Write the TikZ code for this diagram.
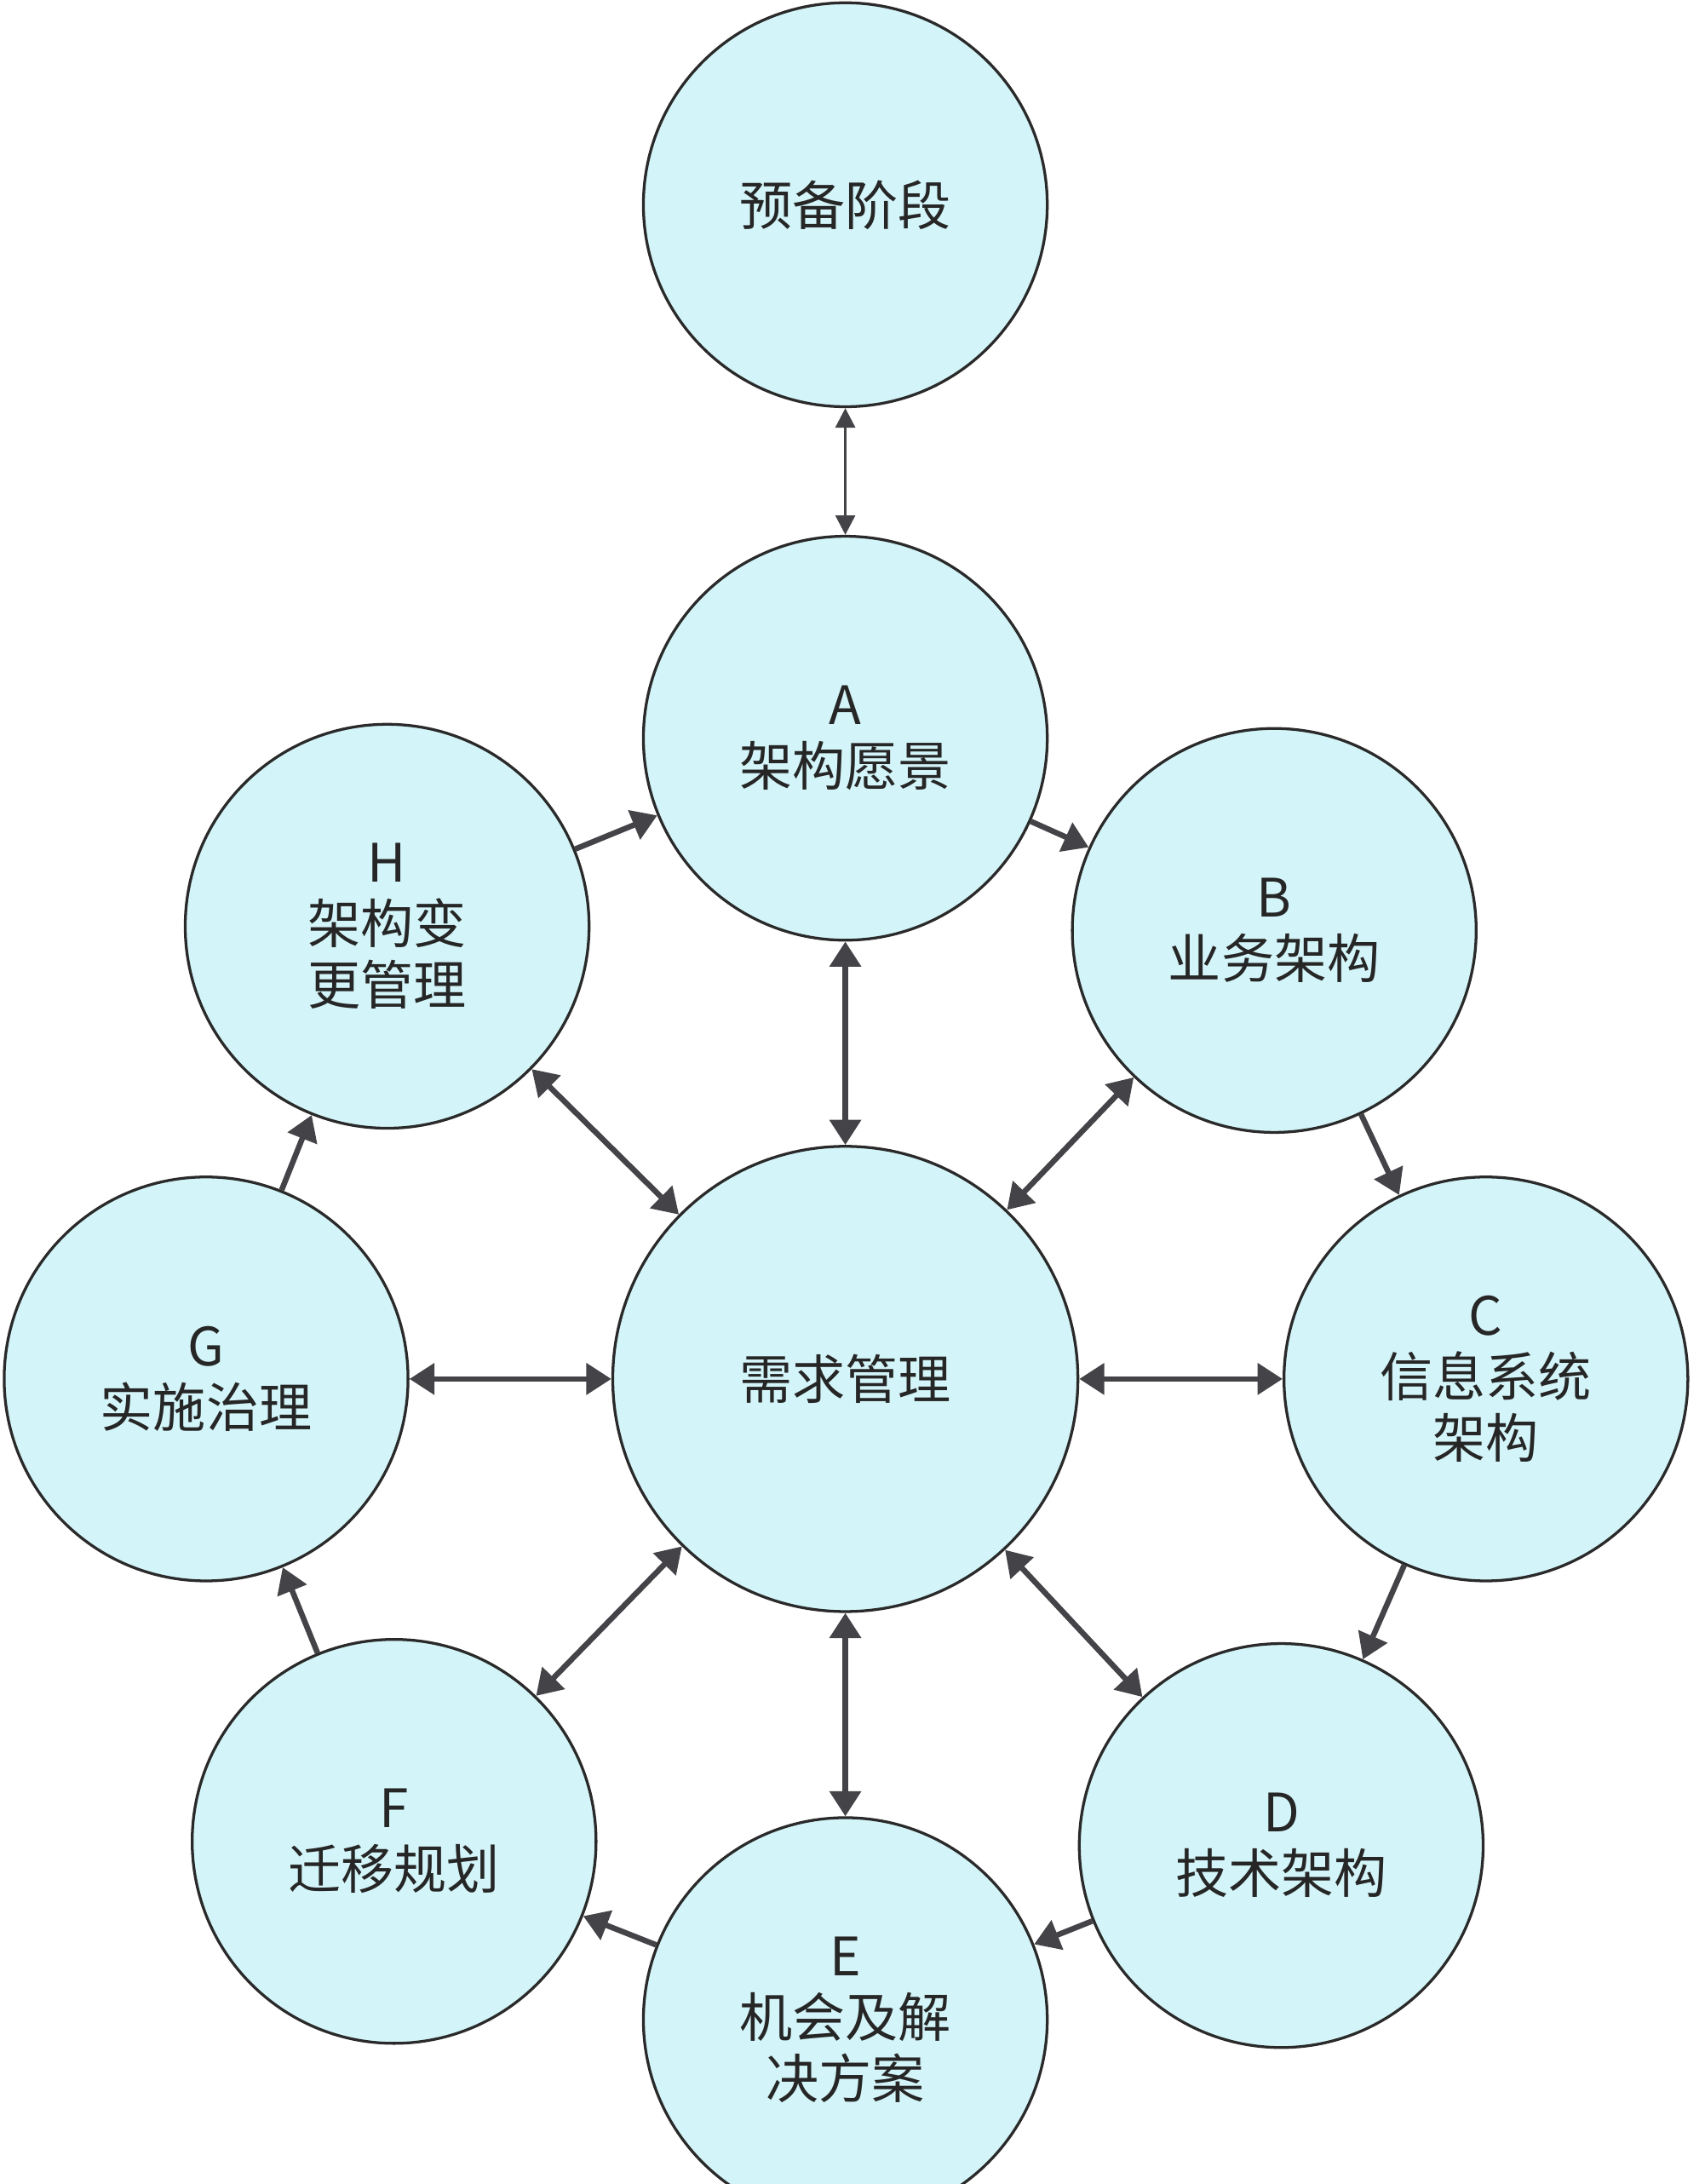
\documentclass[tikz,border=0pt]{standalone}
\usepackage{fontspec}
\setmainfont{Noto Sans CJK SC}
\usetikzlibrary{arrows.meta}
\definecolor{cfill}{HTML}{D3F4F8}
\definecolor{cline}{HTML}{2A2A2A}
\definecolor{carr}{HTML}{444448}
\begin{document}
\begin{tikzpicture}[x=1pt,y=1pt,
  ph/.style={circle,draw=cline,line width=2pt,fill=cfill,minimum size=290pt,inner sep=0pt,align=center,font=\fontsize{38}{44}\selectfont,text=black!85},
  bi/.style={carr,line width=4pt,{Triangle[length=18pt,width=22pt]}-{Triangle[length=18pt,width=22pt]}},
  one/.style={carr,line width=4pt,-{Triangle[length=18pt,width=22pt]}}]
\useasboundingbox[fill=white] (0,0) rectangle (1224,-1568);
\node[ph] (P) at (607,-147) {预备阶段};
\node[ph] (A) at (607,-530) {A\\架构愿景};
\node[ph] (B) at (915,-668) {B\\业务架构};
\node[ph] (C) at (1067,-990) {C\\信息系统\\架构};
\node[ph] (D) at (920,-1325) {D\\技术架构};
\node[ph] (E) at (607,-1450) {E\\机会及解\\决方案};
\node[ph] (F) at (283,-1322) {F\\迁移规划};
\node[ph] (G) at (148,-990) {G\\实施治理};
\node[ph] (H) at (278,-665) {H\\架构变\\更管理};
\node[ph,minimum size=334pt] (R) at (607,-990) {需求管理};
\draw[carr,line width=2pt,{Triangle[length=14pt,width=14pt]}-{Triangle[length=14pt,width=14pt]}] (P) -- (A);
\foreach \n in {A,B,C,D,E,F,G,H} \draw[bi] (R) -- (\n);
\draw[one] (A) -- (B);
\draw[one] (B) -- (C);
\draw[one] (C) -- (D);
\draw[one] (D) -- (E);
\draw[one] (E) -- (F);
\draw[one] (F) -- (G);
\draw[one] (G) -- (H);
\draw[one] (H) -- (A);
\end{tikzpicture}
\end{document}
